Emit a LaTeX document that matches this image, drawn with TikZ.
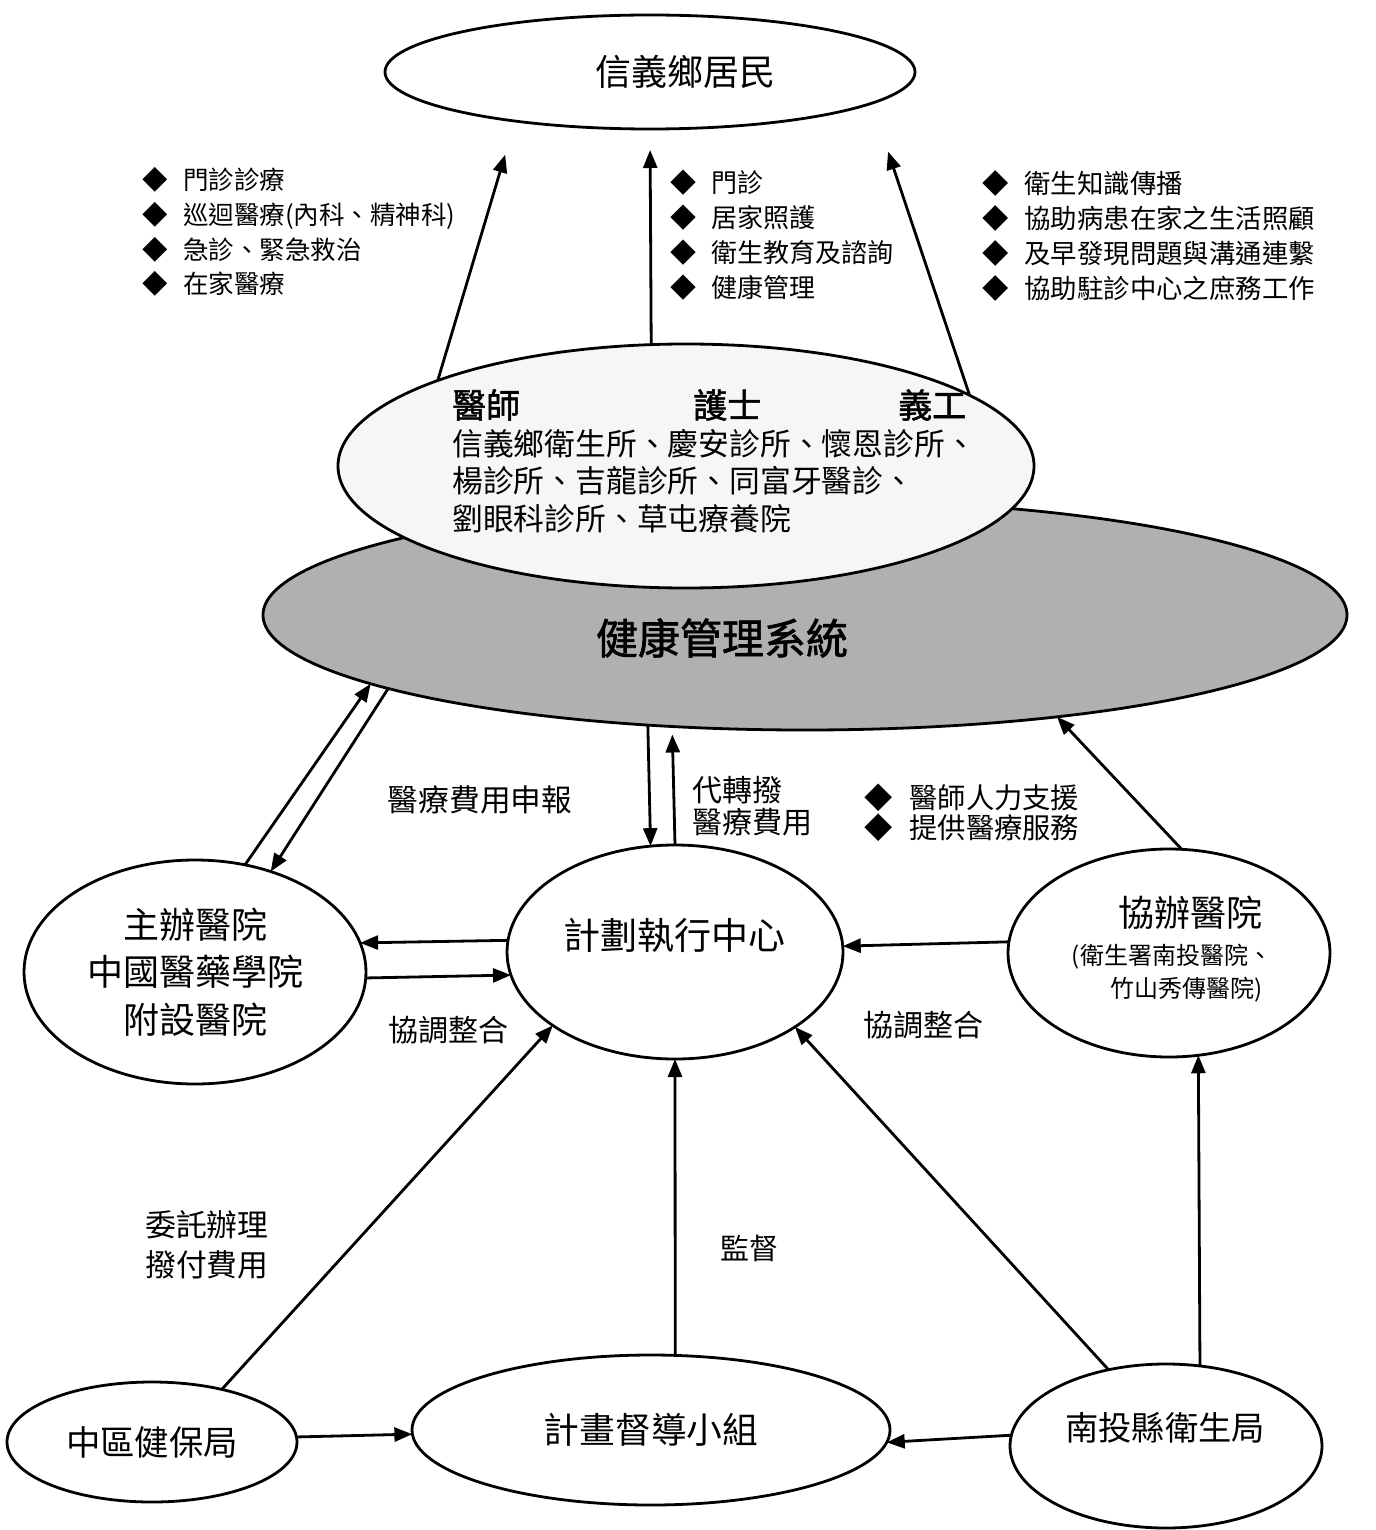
\documentclass[tikz,border=0pt]{standalone}
\usepackage{fontspec}
\setmainfont{Noto Sans CJK TC}[AutoFakeBold=1.5]
\usetikzlibrary{shapes.geometric, arrows.meta}

\newcommand{\itm}[1]{◆\hspace{0.6em}#1}
\newcommand{\fsz}[2]{\fontsize{#1}{#2}\selectfont}

\tikzset{
  ell/.style={ellipse, draw, line width=2.8pt, inner sep=0pt, outer sep=0pt},
  arr/.style={-{Triangle[length=18pt,width=14pt]}, line width=2.8pt},
  list/.style={anchor=west, align=left, inner sep=0pt},
  role/.style={anchor=west, inner sep=0pt, font=\fsz{34}{34}\bfseries},
}

\begin{document}
\begin{tikzpicture}[x=1pt, y=-1pt]
\useasboundingbox (0,0) rectangle (1375,1530);

% ellipses
\node[ell, fill=gray!62, minimum width=1084, minimum height=230] (hms) at (805,615) {};
\node[ell, minimum width=530, minimum height=114] (res) at (650,72) {};
\node[ell, fill=gray!7, minimum width=696, minimum height=244] (mid) at (686,466) {};
\node[ell, minimum width=342, minimum height=224, align=center, font=\fsz{36}{47.5}] (zb) at (195,972) {主辦醫院\\中國醫藥學院\\附設醫院};
\node[ell, minimum width=336, minimum height=214] (exe) at (675,952) {};
\node[ell, minimum width=322, minimum height=208] (xb) at (1169,953) {};
\node[ell, minimum width=290, minimum height=120, font=\fsz{34.4}{34}] (nhi) at (152,1442) {中區健保局};
\node[ell, minimum width=478, minimum height=150, font=\fsz{35.8}{36}] (sup) at (651,1430) {計畫督導小組};
\node[ell, minimum width=312, minimum height=164] (ntb) at (1166,1446) {};

% texts of the ellipses
\node[font=\fsz{36}{36}] (reslbl) at (685,72) {信義鄉居民};
\node[font=\fsz{42}{42}\bfseries] (hmslbl) at (722,638) {健康管理系統};
\node[font=\fsz{37}{37}] (exelbl) at (674,935) {計劃執行中心};
\node[font=\fsz{36}{36}] (xblbl) at (1190,913) {協辦醫院};
\node[font=\fsz{24}{24}] (xbsub1) at (1172,957) {(衛生署南投醫院、};
\node[font=\fsz{24}{24}] (xbsub2) at (1187,990) {竹山秀傳醫院)};
\node[font=\fsz{33.3}{33}] (ntblbl) at (1165,1428) {南投縣衛生局};
\node[role] (doc) at (452,405) {醫師};
\node[role] (nurse) at (693,405) {護士};
\node[role] (vol) at (898,405) {義工};
\node[list, font=\fsz{30.8}{37.5}] (clinics) at (452,481) {信義鄉衛生所、慶安診所、懷恩診所、\\楊診所、吉龍診所、同富牙醫診、\\劉眼科診所、草屯療養院};

% service lists
\node[list, font=\fsz{25.5}{34.7}] (svcdoc) at (142,232) {\itm{門診診療}\\\itm{巡迴醫療(內科、精神科)}\\\itm{急診、緊急救治}\\\itm{在家醫療}};
\node[list, font=\fsz{26}{35}] (svcnurse) at (670,235.5) {\itm{門診}\\\itm{居家照護}\\\itm{衛生教育及諮詢}\\\itm{健康管理}};
\node[list, font=\fsz{26.4}{35.3}] (svcvol) at (982,236) {\itm{衛生知識傳播}\\\itm{協助病患在家之生活照顧}\\\itm{及早發現問題與溝通連繫}\\\itm{協助駐診中心之庶務工作}};

% connector labels
\node[font=\fsz{30.7}{30}] (claim) at (480,800) {醫療費用申報};
\node[list, font=\fsz{30}{32}] (transfer) at (692,806) {代轉撥\\醫療費用};
\node[list, font=\fsz{28.3}{30}] (support) at (864,813) {\itm{醫師人力支援}\\\itm{提供醫療服務}};
\node[font=\fsz{30}{30}] (coordL) at (448,1030) {協調整合};
\node[font=\fsz{30}{30}] (coordR) at (923,1025) {協調整合};
\node[list, font=\fsz{30.8}{40}] (commission) at (145,1245) {委託辦理\\撥付費用};
\node[font=\fsz{29}{29}] (oversee) at (749,1248) {監督};

% arrows
\draw[arr, shorten >=35pt] (mid.161.2) -- (res.200);
\draw[arr, shorten >=21pt] (mid.106.6) -- (res.south);
\draw[arr, shorten >=51pt] (mid.14.4) -- (res.352.8);
\draw[arr] (zb.65.9) -- (hms.189.1);
\draw[arr] (hms.190.5) -- (zb.53.3);
\draw[arr] (hms.215.4) -- (exe.103.3);
\draw[arr, shorten >=8pt] (exe.north) -- (hms.220.7);
\draw[arr] (xb.83.9) -- (hms.338.6);
\draw[arr] (exe.176.9) -- (zb.10);
\draw[arr] (zb.358.3) -- (exe.188.7);
\draw[arr] (xb.176.8) -- (exe.2.7);
\draw[arr] (nhi.37.9) -- (exe.211.9);
\draw[arr] (sup.72.2) -- (exe.south);
\draw[arr] (ntb.127.8) -- (exe.328.6);
\draw[arr] (ntb.67) -- (xb.286.9);
\draw[arr] (nhi.2) -- (sup.181.9);
\draw[arr] (ntb.176.7) -- (sup.357.6);
\end{tikzpicture}
\end{document}
